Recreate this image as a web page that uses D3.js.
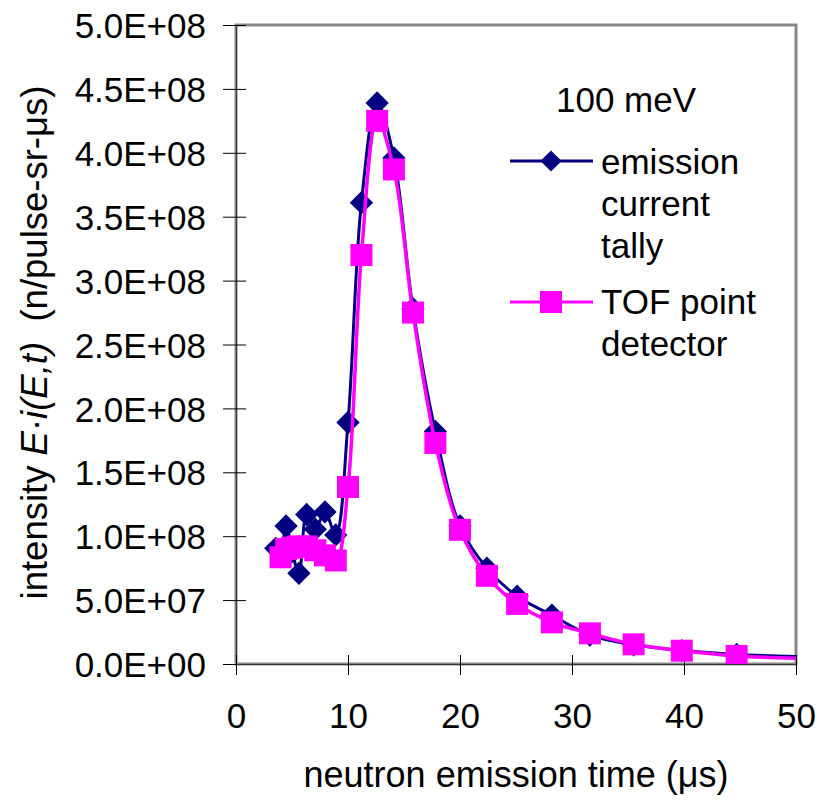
<!DOCTYPE html>
<html><head><meta charset="utf-8">
<script src="https://cdn.jsdelivr.net/npm/d3@7"></script>
<style>
html,body{margin:0;padding:0;background:#fff;}
svg text{font-family:"Liberation Sans",Arial,sans-serif;fill:#000;}
</style></head>
<body>
<svg id="chart" width="820" height="804"></svg>
<script>
// ---- data ----
const emissionTime = [3.55, 3.98, 4.47, 5.01, 5.62, 6.31, 7.08, 7.94, 8.91, 10.0, 11.2, 12.6, 14.1, 15.8, 17.8, 20.0, 22.4, 25.1, 28.2, 31.6, 35.5, 39.8, 44.7, 56.2];
const emissionCurrent = [0.905e8, 0.87e8, 1.08e8, 0.88e8, 0.71e8, 1.17e8, 1.055e8, 1.19e8, 1.01e8, 1.89e8, 3.61e8, 4.39e8, 3.96e8, 2.78e8, 1.82e8, 1.08e8, 0.75e8, 0.53e8, 0.383e8, 0.226e8, 0.15e8, 0.105e8, 0.075e8, 0.045e8];
const tofTime = [3.98, 4.47, 5.01, 5.62, 6.31, 7.08, 7.94, 8.91, 10.0, 11.2, 12.6, 14.1, 15.8, 17.8, 20.0, 22.4, 25.1, 28.2, 31.6, 35.5, 39.8, 44.7, 56.2];
const tofPoint = [0.835e8, 0.9e8, 0.91e8, 0.92e8, 0.92e8, 0.89e8, 0.85e8, 0.81e8, 1.385e8, 3.2e8, 4.25e8, 3.87e8, 2.75e8, 1.73e8, 1.05e8, 0.69e8, 0.47e8, 0.326e8, 0.24e8, 0.154e8, 0.104e8, 0.063e8, 0.035e8];
const xTicks = [0, 10, 20, 30, 40, 50];
const yTicks = [0, 0.5e8, 1e8, 1.5e8, 2e8, 2.5e8, 3e8, 3.5e8, 4e8, 4.5e8, 5e8];
const seriesNames = ["emission\ncurrent\ntally", "TOF point\ndetector"];
const energyLabel = "100 meV";

// ---- layout ----
const L = 236, R = 796, T = 25, B = 664;
const svg = d3.select("#chart");
const x = d3.scaleLinear().domain([0, 50]).range([L, R]);
const y = d3.scaleLinear().domain([0, 5e8]).range([B, T]);
const FS = 35;

function fmt(v){
  if (v === 0) return "0.0E+00";
  const e = Math.floor(Math.log10(v) + 1e-9);
  const m = v / Math.pow(10, e);
  return m.toFixed(1) + "E+" + String(e).padStart(2, "0");
}

// plot border
svg.append("rect").attr("x", L).attr("y", T).attr("width", R - L).attr("height", B - T)
  .attr("fill", "none").attr("stroke", "#868686").attr("stroke-width", 3);

// axes
const yAxis = d3.axisLeft(y).tickValues(yTicks).tickFormat(fmt).tickSizeInner(13).tickSizeOuter(0).tickPadding(17);
const gy = svg.append("g").attr("transform", `translate(${L},0)`).call(yAxis);
gy.selectAll(".tick line").attr("x2", -13).attr("x1", 10).attr("stroke", "#000");
gy.select(".domain").attr("stroke", "#333").attr("stroke-width", 1);
gy.selectAll(".tick text").style("font-size", FS + "px").attr("dy", "0.36em");

const xAxis = d3.axisBottom(x).tickValues(xTicks).tickFormat(d3.format("d")).tickSizeInner(11).tickSizeOuter(0).tickPadding(28);
const gx = svg.append("g").attr("transform", `translate(0,${B})`).call(xAxis);
gx.selectAll(".tick line").attr("y1", -9).attr("y2", 11).attr("stroke", "#000");
gx.select(".domain").attr("stroke", "#333").attr("stroke-width", 1);
gx.selectAll(".tick text").style("font-size", FS + "px").attr("dy", "0.71em");

// axis titles
svg.append("text").attr("x", (L + R) / 2 - 0).attr("y", 787).attr("text-anchor", "middle")
  .style("font-size", "36px").text("neutron emission time (\u03bcs)");

const yt = svg.append("text").attr("transform", `translate(47,${(T + B) / 2 - 2}) rotate(-90)`)
  .attr("text-anchor", "middle").style("font-size", "36.5px");
yt.append("tspan").text("intensity ");
yt.append("tspan").style("font-style", "italic").text("E");
yt.append("tspan").text("\u00b7");
yt.append("tspan").style("font-style", "italic").text("i(E,t)");
yt.append("tspan").text("\u00a0\u00a0(n/pulse-sr-\u03bcs)");

// series
svg.append("clipPath").attr("id", "plotclip").append("rect")
  .attr("x", L).attr("y", T - 20).attr("width", R - L).attr("height", B - T + 20);

const line = d3.line().x(d => x(d[0])).y(d => y(d[1])).curve(d3.curveCatmullRom.alpha(0.5));
const blueData = emissionTime.map((t, i) => [t, emissionCurrent[i]]);
const pinkData = tofTime.map((t, i) => [t, tofPoint[i]]);
const NAVY = "#000080", MAG = "#ff00ff";
const plot = svg.append("g").attr("clip-path", "url(#plotclip)");

plot.append("path").datum(blueData).attr("d", line).attr("fill", "none").attr("stroke", NAVY).attr("stroke-width", 3);
const diamond = d3.symbol().type(d3.symbolSquare).size(16.5 * 16.5);
plot.selectAll(".dia").data(blueData.filter(d => d[0] <= 50)).join("path")
  .attr("d", diamond).attr("transform", d => `translate(${x(d[0])},${y(d[1])}) rotate(45)`).attr("fill", NAVY);

plot.append("path").datum(pinkData).attr("d", line).attr("fill", "none").attr("stroke", MAG).attr("stroke-width", 3.5);
plot.selectAll(".sq").data(pinkData.filter(d => d[0] <= 50)).join("rect")
  .attr("x", d => x(d[0]) - 11).attr("y", d => y(d[1]) - 11).attr("width", 22).attr("height", 22).attr("fill", MAG);

// legend
svg.append("text").attr("x", 556).attr("y", 112).style("font-size", FS + "px").text(energyLabel);
const leg = [
  {name: seriesNames[0], color: NAVY, shape: "d", ly: 161, ty: 174},
  {name: seriesNames[1], color: MAG, shape: "s", ly: 302, ty: 314}
];
leg.forEach(s => {
  svg.append("line").attr("x1", 510).attr("x2", 593).attr("y1", s.ly).attr("y2", s.ly)
    .attr("stroke", s.color).attr("stroke-width", 3);
  if (s.shape === "d") {
    svg.append("path").attr("d", d3.symbol().type(d3.symbolSquare).size(15 * 15)())
      .attr("transform", `translate(551,${s.ly}) rotate(45)`).attr("fill", s.color);
  } else {
    svg.append("rect").attr("x", 540).attr("y", s.ly - 11).attr("width", 22).attr("height", 22).attr("fill", s.color);
  }
  const t = svg.append("text").attr("x", 601).attr("y", s.ty).style("font-size", FS + "px");
  s.name.split("\n").forEach((ln, i) => {
    t.append("tspan").attr("x", 601).attr("dy", i === 0 ? 0 : 42).text(ln);
  });
});
</script>
</body></html>
